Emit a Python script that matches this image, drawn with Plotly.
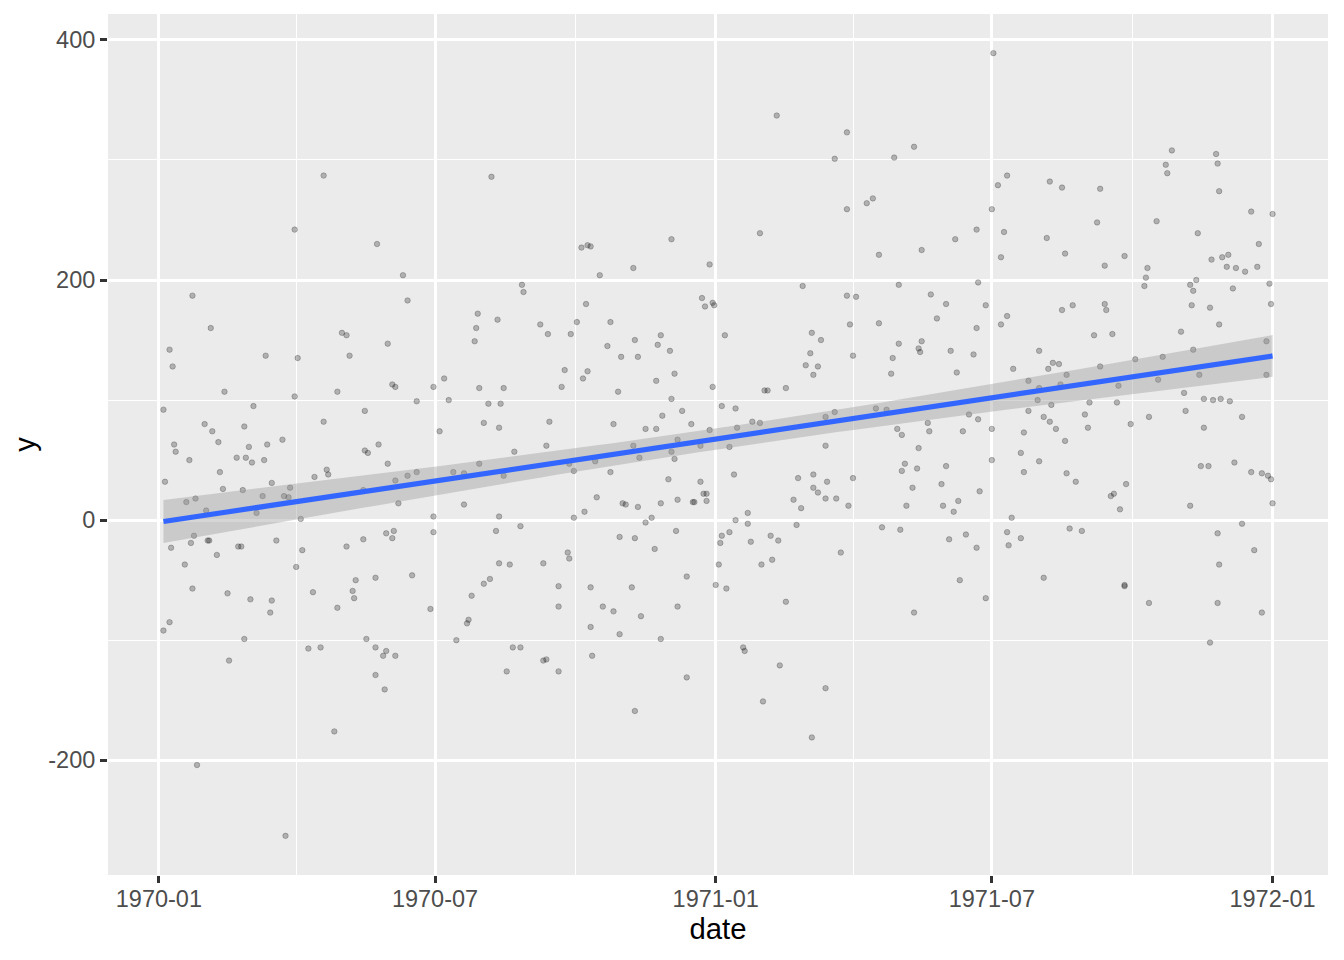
import numpy as np
import pandas as pd
import plotly.graph_objects as go

# ---- data: day offset from 1970-01-01 and y value ----
day_offset = [
    108, 89, 22, 34, 7, 9, 70, 91, 43, 117,
    89, 3, 62, 30, 35, 56, 108, 81, 10, 39,
    59, 71, 11, 20, 51, 57, 61, 69, 40, 4,
    110, 111, 102, 42, 55, 74, 86, 18, 24, 68,
    82, 85, 31, 64, 93, 23, 32, 33, 21, 8,
    52, 54, 77, 94, 38, 17, 90, 22, 45, 101,
    60, 74, 73, 117, 7, 3, 56, 98, 106, 46,
    115, 25, 83, 218, 143, 160, 238, 239, 163, 209,
    222, 208, 207, 120, 123, 150, 125, 153, 155, 180,
    187, 210, 226, 169, 190, 216, 224, 135, 213, 223,
    184, 144, 135, 137, 150, 233, 210, 169, 163, 155,
    193, 200, 226, 134, 157, 200, 180, 223, 154, 149,
    153, 134, 123, 180, 221, 237, 129, 142, 166, 127,
    128, 178, 223, 230, 217, 213, 205, 202, 203, 136,
    142, 149, 147, 155, 195, 232, 237, 228, 142, 148,
    336, 277, 281, 283, 311, 361, 289, 280, 356, 358,
    250, 255, 270, 274, 296, 329, 312, 327, 294, 335,
    303, 314, 266, 281, 278, 338, 264, 326, 301, 336,
    343, 330, 256, 298, 319, 326, 349, 361, 254, 311,
    340, 336, 338, 355, 315, 269, 272, 286, 296, 334,
    355, 357, 359, 287, 304, 306, 314, 329, 340, 350,
    351, 359, 279, 272, 323, 319, 302, 312, 339, 325,
    268, 269, 252, 346, 262, 283, 310, 262, 291, 298,
    316, 340, 283, 302, 329, 252, 254, 262, 284, 346,
    312, 405, 451, 443, 482, 451, 464, 468, 394, 472,
    422, 363, 364, 451, 457, 453, 472, 371, 428, 434,
    427, 455, 481, 424, 432, 429, 480, 363, 397, 399,
    411, 369, 378, 389, 394, 437, 443, 470, 477, 379,
    374, 437, 377, 419, 429, 438, 455, 429, 432, 437,
    444, 452, 416, 421, 386, 378, 386, 418, 474, 374,
    369, 368, 388, 401, 406, 447, 367, 395, 402, 365,
    372, 411, 383, 384, 407, 437, 396, 428, 547, 495,
    556, 550, 584, 592, 546, 536, 554, 522, 582, 500,
    552, 594, 485, 537, 506, 516, 542, 592, 599, 510,
    556, 552, 536, 485, 500, 498, 499, 519, 534, 577,
    586, 590, 583, 560, 523, 595, 570, 591, 577, 576,
    585, 610, 570, 531, 537, 580, 584, 607, 504, 484,
    487, 505, 527, 546, 567, 588, 609, 594, 498, 489,
    487, 497, 516, 546, 565, 577, 567, 595, 601, 494,
    513, 538, 490, 514, 524, 521, 559, 486, 518, 529,
    536, 556, 565, 557, 597, 605, 525, 542, 580, 495,
    664, 693, 694, 660, 661, 617, 695, 615, 654, 716,
    730, 681, 721, 633, 690, 697, 701, 620, 648, 647,
    646, 700, 706, 712, 720, 676, 680, 678, 704, 728,
    729, 620, 621, 677, 689, 695, 670, 613, 625, 726,
    678, 640, 658, 617, 655, 682, 726, 629, 672, 628,
    685, 691, 696, 702, 649, 673, 710, 637, 685, 683,
    688, 705, 716, 723, 727, 729, 730, 634, 624, 626,
    630, 676, 710, 694, 718, 695, 633, 633, 649, 694,
    723, 689,
]

y_value = [
    287, 242, 187, 160, 142, 128, 137, 135, 107, 107,
    103, 92, 95, 80, 74, 78, 82, 67, 63, 65,
    61, 63, 57, 50, 52, 52, 48, 50, 40, 32,
    42, 38, 36, 26, 25, 31, 27, 15, 18, 20,
    20, 19, 8, 6, 1, -13, -17, -17, -19, -23,
    -22, -22, -17, -25, -29, -37, -39, -57, -61, -60,
    -66, -67, -77, -73, -85, -92, -99, -107, -106, -117,
    -176, -204, -263, 286, 230, 204, 196, 190, 183, 172,
    167, 160, 149, 156, 154, 147, 137, 113, 111, 111,
    118, 110, 110, 99, 100, 97, 97, 91, 81, 77,
    74, 63, 58, 56, 47, 57, 47, 40, 37, 33,
    40, 39, 37, 25, 14, 13, 3, 3, -9, -11,
    -15, -16, -22, -10, -9, -5, -50, -48, -46, -59,
    -65, -74, -36, -37, -49, -53, -63, -86, -83, -99,
    -106, -109, -113, -113, -100, -106, -106, -126, -129, -141,
    234, 227, 229, 228, 210, 213, 204, 180, 185, 178,
    163, 155, 155, 165, 165, 154, 150, 146, 145, 141,
    136, 136, 125, 124, 118, 122, 111, 116, 107, 101,
    91, 87, 82, 80, 76, 76, 80, 75, 62, 62,
    67, 57, 51, 62, 52, 47, 41, 49, 40, 34,
    32, 22, 22, 19, 14, 13, 11, 14, 17, 15,
    15, 16, 7, 2, 2, -2, -14, -15, -9, -24,
    -27, -32, -36, -47, -55, -56, -56, -72, -72, -76,
    -80, -72, -89, -95, -99, -117, -116, -126, -113, -131,
    -159, 337, 323, 301, 302, 259, 264, 268, 239, 221,
    195, 181, 179, 187, 186, 163, 164, 154, 156, 150,
    139, 137, 135, 129, 128, 121, 122, 111, 108, 108,
    110, 95, 93, 82, 81, 86, 90, 93, 92, 77,
    61, 62, 38, 35, 38, 32, 35, 27, 23, 18,
    18, 12, 17, 10, 6, 0, -3, -4, -6, -10,
    -13, -19, -18, -13, -17, -27, -37, -37, -33, -54,
    -57, -68, -106, -109, -121, -140, -151, -181, 389, 311,
    287, 279, 282, 277, 259, 242, 240, 234, 235, 225,
    219, 222, 196, 198, 188, 180, 179, 175, 179, 168,
    170, 163, 160, 147, 149, 143, 140, 141, 138, 141,
    131, 130, 126, 126, 123, 121, 116, 113, 110, 100,
    96, 98, 91, 88, 84, 86, 82, 88, 81, 76,
    71, 74, 74, 76, 73, 76, 77, 66, 60, 47,
    41, 43, 45, 50, 56, 49, 40, 39, 32, 27,
    30, 24, 12, 12, 16, 7, 2, -8, -16, -12,
    -23, -10, -15, -21, -7, -9, -50, -65, -48, -77,
    308, 305, 297, 296, 289, 276, 274, 248, 249, 257,
    255, 239, 230, 220, 217, 219, 221, 212, 210, 202,
    195, 211, 210, 207, 211, 196, 200, 191, 193, 197,
    180, 180, 175, 179, 177, 163, 157, 154, 155, 149,
    142, 134, 136, 128, 117, 121, 121, 112, 106, 98,
    101, 100, 101, 99, 86, 91, 86, 80, 77, 45,
    45, 48, 40, 39, 37, 34, 14, 30, 20, 22,
    9, 12, -3, -11, -25, -37, -55, -54, -69, -69,
    -77, -102,
]

x_major = ["1970-01-01", "1970-07-01", "1971-01-01", "1971-07-01", "1972-01-01"]
x_major_labels = ["1970-01", "1970-07", "1971-01", "1971-07", "1972-01"]
y_major = [-200, 0, 200, 400]
y_minor = [-100, 100, 300]

# ---- derived ----
start = pd.Timestamp("1970-01-01")
xd = np.array(day_offset, dtype=float)
yv = np.array(y_value, dtype=float)
dates = start + pd.to_timedelta(xd, unit="D")

# linear model with 95% confidence band (like geom_smooth(method = "lm"))
n = len(xd)
slope, intercept = np.polyfit(xd, yv, 1)
resid = yv - (intercept + slope * xd)
s = np.sqrt(np.sum(resid ** 2) / (n - 2))
xm = xd.mean()
sxx = np.sum((xd - xm) ** 2)
xg = np.linspace(xd.min(), xd.max(), 80)
yg = intercept + slope * xg
se = s * np.sqrt(1.0 / n + (xg - xm) ** 2 / sxx)
tq = 1.965
upper = yg + tq * se
lower = yg - tq * se
xg_dates = start + pd.to_timedelta(xg, unit="D")

# minor x breaks midway between major ones
maj_ts = pd.to_datetime(x_major)
x_minor = [maj_ts[i] + (maj_ts[i + 1] - maj_ts[i]) / 2 for i in range(len(maj_ts) - 1)]

# axis ranges with 5% expansion
xspan = xd.max() - xd.min()
xr = [start + pd.to_timedelta(xd.min() - 0.05 * xspan, unit="D"),
      start + pd.to_timedelta(xd.max() + 0.05 * xspan, unit="D")]
yall = np.concatenate([yv, upper, lower])
yspan = yall.max() - yall.min()
yr = [yall.min() - 0.05 * yspan, yall.max() + 0.05 * yspan]

fig = go.Figure()
fig.add_trace(go.Scatter(
    x=dates, y=yv, mode="markers",
    marker=dict(size=5.5, color="rgba(0,0,0,0.25)",
                line=dict(width=1, color="rgba(0,0,0,0.22)")),
    hoverinfo="skip", showlegend=False))
fig.add_trace(go.Scatter(
    x=list(xg_dates) + list(xg_dates[::-1]),
    y=list(upper) + list(lower[::-1]),
    mode="lines", fill="toself", fillcolor="rgba(153,153,153,0.4)",
    line=dict(width=0), hoverinfo="skip", showlegend=False))
fig.add_trace(go.Scatter(
    x=xg_dates, y=yg, mode="lines",
    line=dict(color="#3366FF", width=5.2),
    hoverinfo="skip", showlegend=False))

tickfont = dict(family="Liberation Sans, Arial, sans-serif", size=23.5, color="#4D4D4D")
titlefont = dict(family="Liberation Sans, Arial, sans-serif", size=29.3, color="black")

# page body has an 8px margin: size the figure to fit inside it
fig.update_layout(
    width=1328, height=944,
    margin=dict(l=100, r=8, t=6, b=77),
    paper_bgcolor="white", plot_bgcolor="#EBEBEB",
    showlegend=False,
    xaxis=dict(
        type="date", range=xr,
        tickmode="array", tickvals=list(maj_ts), ticktext=x_major_labels,
        showgrid=True, gridcolor="white", gridwidth=2.8,
        minor=dict(tickvals=x_minor, showgrid=True, gridcolor="white", gridwidth=1.4),
        ticks="outside", ticklen=7, tickwidth=2.8, tickcolor="#333333",
        ticklabelstandoff=-4,
        tickfont=tickfont, zeroline=False, showline=False,
        title=dict(text="date", font=titlefont, standoff=6),
    ),
    yaxis=dict(
        range=yr,
        tickmode="array", tickvals=y_major, ticktext=[str(v) for v in y_major],
        showgrid=True, gridcolor="white", gridwidth=2.8,
        minor=dict(tickvals=y_minor, showgrid=True, gridcolor="white", gridwidth=1.4),
        ticks="outside", ticklen=7, tickwidth=2.8, tickcolor="#333333",
        tickfont=tickfont, zeroline=False, showline=False,
        title=dict(text="y", font=titlefont, standoff=8),
    ),
)

fig.write_html("out.html")
